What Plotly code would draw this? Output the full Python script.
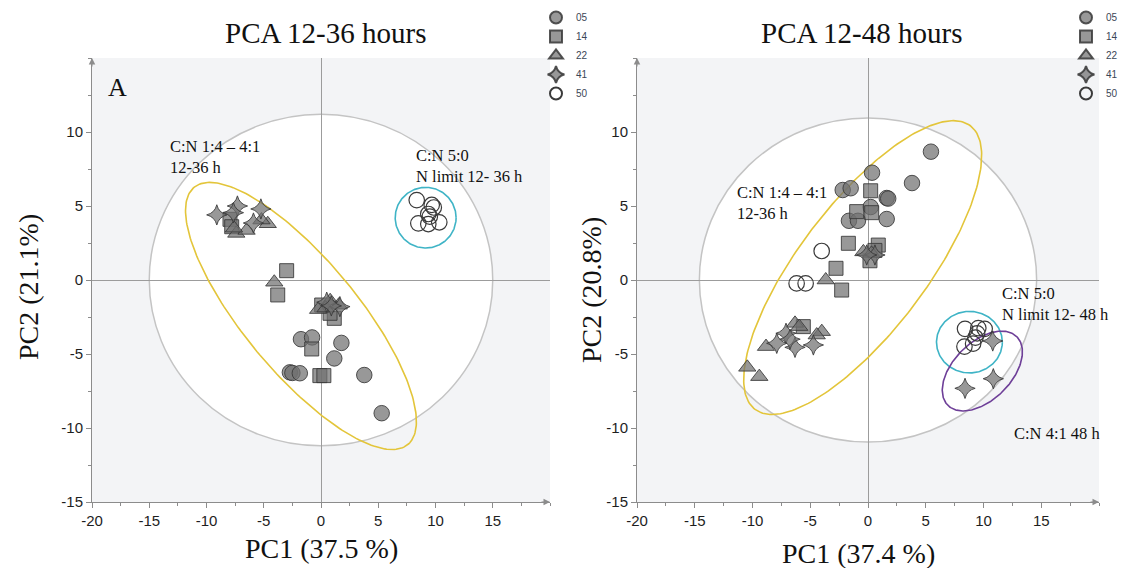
import numpy as np
import plotly.graph_objects as go

groups = ["05", "14", "22", "41", "50"]

# PCA 12-36 h scores (PC1, PC2) per group
l05_x = [-1.75, -0.78, 1.78, 1.16, -2.72, -2.5, -1.85, 3.78, 5.3]
l05_y = [-4.0, -3.88, -4.25, -5.3, -6.24, -6.28, -6.3, -6.42, -9.0]
l14_x = [-3.0, -3.78, -0.81, -0.1, 0.25, 1.16, 0.79, 0.06, -7.95, -7.8]
l14_y = [0.63, -1.01, -4.66, -6.46, -6.46, -2.59, -2.25, -1.69, 4.1, 3.6]
l22_x = [-4.08, -7.4, -6.5, -4.65, -5.2, -7.6, -0.25, 0.8, 1.55, 0.4]
l22_y = [-0.15, 3.15, 3.35, 3.8, 4.05, 3.5, -2.0, -1.4, -1.7, -1.9]
l41_x = [-9.1, -7.3, -5.25, -5.9, -7.65, 0.5, 1.65, 0.9]
l41_y = [4.4, 5.0, 4.8, 3.85, 4.55, -1.5, -1.8, -1.75]
l50_x = [8.36, 9.67, 9.85, 9.37, 9.5, 8.5, 9.37, 10.33]
l50_y = [5.4, 5.07, 4.9, 4.46, 4.28, 3.83, 3.78, 3.9]

# PCA 12-48 h scores (PC1, PC2) per group
r05_x = [5.45, 3.81, 0.35, -2.19, -1.5, 1.62, 1.75, 0.23, -1.65, -0.87, 1.62]
r05_y = [8.67, 6.55, 7.25, 6.08, 6.2, 5.54, 5.5, 4.93, 4.0, 4.0, 4.12]
r14_x = [0.23, -0.98, 0.32, -1.7, 0.89, 0.6, 0.17, -2.77, -2.28, -5.6]
r14_y = [6.03, 4.62, 4.55, 2.48, 2.36, 2.0, 1.3, 0.79, -0.68, -3.15]
r22_x = [-3.66, -0.4, 0.3, -8.83, -10.45, -9.41, -6.32, -4.0, -4.44, -5.95]
r22_y = [0.0, 1.9, 1.8, -4.5, -5.9, -6.53, -2.93, -3.49, -3.72, -3.15]
r41_x = [-7.9, -7.1, -6.32, -4.73, -6.75, 0.6, -0.11, 8.4, 10.85, 10.8]
r41_y = [-4.28, -3.6, -4.55, -4.39, -4.0, 1.69, 1.69, -7.32, -6.67, -4.12]
r50_x = [-4.01, -6.18, -5.4, 8.4, 9.55, 10.1, 8.35, 9.1, 9.3, 9.45]
r50_y = [1.96, -0.23, -0.23, -3.3, -3.25, -3.3, -4.5, -4.3, -3.9, -3.6]

# ellipses: (centre x, centre y, semi-axis a, semi-axis b, rotation deg)
l_t2 = (0.0, 0.0, 15.0, 11.2, 0.0)
l_yellow = (-1.75, -2.43, 12.81, 4.36, -41.0)
l_cyan = (9.14, 4.21, 2.66, 2.05, 0.0)
r_t2 = (0.0, 0.0, 14.6, 10.95, 0.0)
r_yellow = (-0.46, 0.84, 13.43, 4.93, 43.6)
r_cyan = (8.78, -4.2, 2.85, 2.08, 0.0)
r_purple = (9.9, -6.15, 3.84, 2.14, 31.0)

x_ticks = [-20, -15, -10, -5, 0, 5, 10, 15]
y_ticks = [-15, -10, -5, 0, 5, 10]

SERIF = "Liberation Serif"
SANS = "Liberation Sans"
FILL = "rgba(112,112,112,0.72)"
EDGE = "rgba(55,55,55,0.85)"
YELLOW = "#e3c53a"
CYAN = "#3fb4c6"
PURPLE = "#6e3f98"
AXIS = "#8c8c8c"
W, H = 1128, 568

style = {
    "05": dict(symbol="circle", size=15.5, color=FILL, line=dict(color=EDGE, width=1)),
    "14": dict(symbol="square", size=14, color=FILL, line=dict(color=EDGE, width=1)),
    "22": dict(symbol="triangle-up", size=15, color=FILL, line=dict(color=EDGE, width=1)),
    "41": dict(symbol="star-diamond", size=14.5, color=FILL, line=dict(color=EDGE, width=1)),
    "50": dict(symbol="circle-open", size=15.5, color="#3a3a3a", line=dict(width=1.2)),
}


def ellipse(cx, cy, a, b, ang, n=241):
    t = np.linspace(0, 2 * np.pi, n)
    th = np.deg2rad(ang)
    x = cx + a * np.cos(t) * np.cos(th) - b * np.sin(t) * np.sin(th)
    y = cy + a * np.cos(t) * np.sin(th) + b * np.sin(t) * np.cos(th)
    return x, y


fig = go.Figure()

panels = [
    ("x", "y", "legend",
     [l05_x, l14_x, l22_x, l41_x, l50_x], [l05_y, l14_y, l22_y, l41_y, l50_y],
     [(l_yellow, YELLOW), (l_cyan, CYAN)], l_t2),
    ("x2", "y2", "legend2",
     [r05_x, r14_x, r22_x, r41_x, r50_x], [r05_y, r14_y, r22_y, r41_y, r50_y],
     [(r_yellow, YELLOW), (r_cyan, CYAN), (r_purple, PURPLE)], r_t2),
]

shapes = []
for xa, ya, leg, xs, ys, rings, t2 in panels:
    cx, cy, a, b, _ = t2
    shapes.append(dict(type="circle", xref=xa, yref=ya, x0=cx - a, x1=cx + a,
                       y0=cy - b, y1=cy + b, fillcolor="white",
                       line=dict(color="#c4c4c4", width=1.5), layer="below"))
    for params, col in rings:
        ex, ey = ellipse(*params)
        fig.add_trace(go.Scatter(x=ex, y=ey, mode="lines", xaxis=xa, yaxis=ya,
                                 line=dict(color=col, width=1.6),
                                 showlegend=False, hoverinfo="skip"))
    for g, gx, gy in zip(groups, xs, ys):
        fig.add_trace(go.Scatter(x=gx, y=gy, mode="markers", name=g,
                                 xaxis=xa, yaxis=ya, legend=leg,
                                 marker=style[g]))

axis_common = dict(range=[-20, 20], showgrid=False, zeroline=True,
                   zerolinecolor="#9c9c9c", zerolinewidth=1,
                   showline=True, linecolor=AXIS, linewidth=1,
                   ticks="outside", ticklen=5, tickcolor=AXIS,
                   tickfont=dict(family=SANS, size=15, color="#1e1e1e"),
                   minor=dict(dtick=2.5, ticklen=3, tickcolor=AXIS, ticks="outside"),
                   automargin=False, fixedrange=True)
xt = dict(tickvals=x_ticks, ticktext=[str(v) for v in x_ticks])
yt_ = dict(tickvals=y_ticks, ticktext=[str(v) for v in y_ticks])

yb, yt = 66 / H, 1 - 58 / H
fig.update_layout(
    width=W, height=H, margin=dict(l=0, r=0, t=0, b=0),
    paper_bgcolor="white", plot_bgcolor="#f3f4f6",
    xaxis=dict(axis_common, domain=[92 / W, 550 / W], anchor="y", **xt),
    yaxis=dict(axis_common, range=[-15, 15], domain=[yb, yt], anchor="x", **yt_),
    xaxis2=dict(axis_common, domain=[637 / W, 1099 / W], anchor="y2", **xt),
    yaxis2=dict(axis_common, range=[-15, 15], domain=[yb, yt], anchor="x2", **yt_),
    shapes=shapes,
    showlegend=True,
    legend=dict(x=536 / W, y=1 - 3 / H, xanchor="left", yanchor="top",
                bgcolor="rgba(0,0,0,0)", itemsizing="constant",
                font=dict(family=SANS, size=10, color="#3b4656")),
    legend2=dict(x=1066 / W, y=1 - 3 / H, xanchor="left", yanchor="top",
                 bgcolor="rgba(0,0,0,0)", itemsizing="constant",
                 font=dict(family=SANS, size=10, color="#3b4656")),
)

ann = []
# panel titles
for txt, x in [("PCA 12-36 hours", 325), ("PCA 12-48 hours", 861)]:
    ann.append(dict(text=txt, xref="paper", yref="paper", x=x / W, y=1 - 33 / H,
                    xanchor="center", yanchor="middle", showarrow=False,
                    font=dict(family=SERIF, size=29, color="#111")))
# axis titles
for txt, x, y in [("PC1 (37.5 %)", 321, 548), ("PC1 (37.4 %)", 858, 553)]:
    ann.append(dict(text=txt, xref="paper", yref="paper", x=x / W, y=1 - y / H,
                    xanchor="center", yanchor="middle", showarrow=False,
                    font=dict(family=SERIF, size=28, color="#111")))
for txt, x, y in [("PC2 (21.1%)", 28, 287), ("PC2 (20.8%)", 591, 290)]:
    ann.append(dict(text=txt, xref="paper", yref="paper", x=x / W, y=1 - y / H,
                    xanchor="center", yanchor="middle", showarrow=False,
                    textangle=-90,
                    font=dict(family=SERIF, size=28, color="#111")))
# panel letter and group labels
ann.append(dict(text="A", xref="x", yref="y", x=-17.8, y=13.0, showarrow=False,
                xanchor="center", yanchor="middle",
                font=dict(family=SERIF, size=26, color="#111")))
labels = [
    ("x", "y", "C:N 1:4 – 4:1<br>12-36 h", -13.4, 8.3),
    ("x", "y", "C:N 5:0<br>N limit 12- 36 h", 8.1, 7.7),
    ("x2", "y2", "C:N 1:4 – 4:1<br>12-36 h", -11.5, 5.2),
    ("x2", "y2", "C:N 5:0<br>N limit 12- 48 h", 11.4, -1.65),
    ("x2", "y2", "C:N 4:1 48 h", 12.45, -10.4),
]
for xa, ya, txt, x, y in labels:
    ann.append(dict(text=txt, xref=xa, yref=ya, x=x, y=y, showarrow=False,
                    xanchor="left", yanchor="middle", align="left",
                    font=dict(family=SERIF, size=16.5, color="#111")))
# arrowheads at the axis ends
for xa, ya in [("x", "y"), ("x2", "y2")]:
    ann.append(dict(text="", xref=xa, yref=ya, x=-20, y=15, ax=0, ay=10,
                    showarrow=True, arrowhead=2, arrowsize=1.3, arrowwidth=1,
                    arrowcolor=AXIS))
    ann.append(dict(text="", xref=xa, yref=ya, x=20, y=-15, ax=-10, ay=0,
                    showarrow=True, arrowhead=2, arrowsize=1.3, arrowwidth=1,
                    arrowcolor=AXIS))
fig.update_layout(annotations=ann)

fig.write_html("out.html")
